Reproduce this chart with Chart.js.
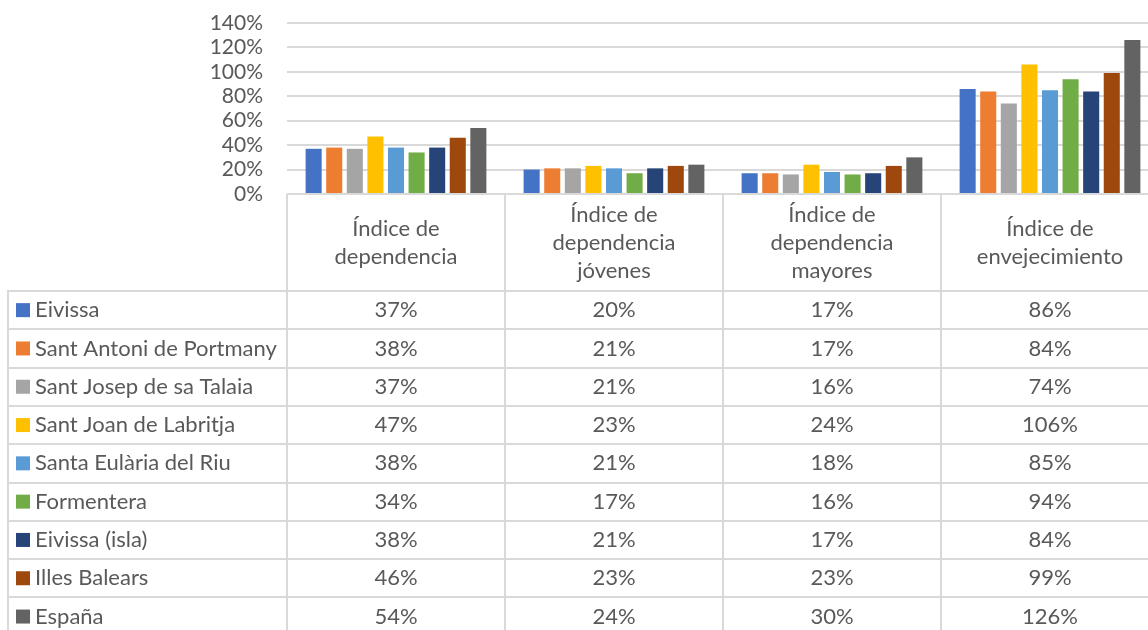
<!DOCTYPE html>
<html>
<head>
<meta charset="utf-8">
<script src="https://cdn.jsdelivr.net/npm/chart.js@4.4.1/dist/chart.umd.min.js"></script>
<style>
  html, body { margin: 0; padding: 0; background: #fff; overflow: hidden; width: 1148px; height: 630px; }
  #wrap { width: 1159px; height: 630px; position: relative; }
</style>
</head>
<body>
<div id="wrap"><canvas id="chart"></canvas></div>
<script>
// categories (wrapped header text)
const categories = [
  ['Índice de', 'dependencia'],
  ['Índice de', 'dependencia', 'jóvenes'],
  ['Índice de', 'dependencia', 'mayores'],
  ['Índice de', 'envejecimiento']
];

// series values in %
const eivissa      = [37, 20, 17, 86];
const santAntoni   = [38, 21, 17, 84];
const santJosep    = [37, 21, 16, 74];
const santJoan     = [47, 23, 24, 106];
const santaEularia = [38, 21, 18, 85];
const formentera   = [34, 17, 16, 94];
const eivissaIsla  = [38, 21, 17, 84];
const illesBalears = [46, 23, 23, 99];
const espana       = [54, 24, 30, 126];

const seriesNames = ['Eivissa', 'Sant Antoni de Portmany', 'Sant Josep de sa Talaia',
  'Sant Joan de Labritja', 'Santa Eulària del Riu', 'Formentera', 'Eivissa (isla)',
  'Illes Balears', 'España'];
const seriesValues = [eivissa, santAntoni, santJosep, santJoan, santaEularia,
  formentera, eivissaIsla, illesBalears, espana];
const colors = ['#4472C4', '#ED7D31', '#A5A5A5', '#FFC000', '#5B9BD5',
  '#70AD47', '#264478', '#9E480E', '#636363'];

const yTicks = [0, 20, 40, 60, 80, 100, 120, 140];

const FONT = 'Lato, Carlito, Calibri, sans-serif';
const TEXT = '#595959';
const LINE = '#d9d9d9';

// draws the data table under the plot, aligned with the x scale
const dataTable = {
  id: 'dataTable',
  afterDraw(chart) {
    const ctx = chart.ctx;
    const area = chart.chartArea;
    const x = chart.scales.x;
    const colW = (area.right - area.left) / categories.length;
    const tableTop = 291;
    const rowH = 38.3;
    const leftEdge = 8;

    ctx.save();
    ctx.strokeStyle = LINE;
    ctx.lineWidth = 2;

    // baseline
    ctx.beginPath();
    ctx.moveTo(area.left, area.bottom);
    ctx.lineTo(area.right, area.bottom);
    ctx.stroke();

    // column separators
    for (let i = 0; i <= categories.length; i++) {
      const cx = Math.round(area.left + i * colW);
      ctx.beginPath();
      ctx.moveTo(cx, area.bottom);
      ctx.lineTo(cx, chart.height);
      ctx.stroke();
    }
    ctx.beginPath();
    ctx.moveTo(leftEdge, tableTop);
    ctx.lineTo(leftEdge, chart.height);
    ctx.stroke();

    // row lines
    for (let r = 0; r <= seriesNames.length; r++) {
      const y = Math.round(tableTop + r * rowH);
      ctx.beginPath();
      ctx.moveTo(leftEdge - 1, y);
      ctx.lineTo(area.right, y);
      ctx.stroke();
    }

    ctx.fillStyle = TEXT;
    ctx.textBaseline = 'middle';
    ctx.textAlign = 'center';
    ctx.font = '22px ' + FONT;

    // header labels
    const headMid = (area.bottom + tableTop) / 2;
    const lh = 28;
    categories.forEach((lines, i) => {
      const cx = x.getPixelForValue(i);
      const y0 = headMid - (lines.length - 1) * lh / 2;
      lines.forEach((t, k) => ctx.fillText(t, cx, y0 + k * lh));
    });

    // rows
    seriesNames.forEach((name, r) => {
      const cy = tableTop + r * rowH + rowH / 2;
      ctx.fillStyle = colors[r];
      ctx.fillRect(16, cy - 7, 14, 14);
      ctx.fillStyle = TEXT;
      ctx.textAlign = 'left';
      ctx.fillText(name, 35, cy);
      ctx.textAlign = 'center';
      seriesValues[r].forEach((v, i) => {
        ctx.fillText(v + '%', x.getPixelForValue(i), cy);
      });
    });
    ctx.restore();
  }
};

new Chart(document.getElementById('chart'), {
  type: 'bar',
  data: {
    labels: categories.map(c => c.join(' ')),
    datasets: seriesNames.map((name, i) => ({
      label: name,
      data: seriesValues[i],
      backgroundColor: colors[i],
      categoryPercentage: 0.85,
      barPercentage: 0.78
    }))
  },
  options: {
    responsive: true,
    maintainAspectRatio: false,
    animation: false,
    layout: { padding: { top: 23, bottom: 436, left: 0, right: 0 } },
    plugins: { legend: { display: false }, tooltip: { enabled: false } },
    scales: {
      x: { display: false },
      y: {
        min: 0,
        max: 140,
        afterFit(scale) {
          scale.width = 287;
          scale.paddingTop = 0;
          scale.paddingBottom = 0;
        },
        afterBuildTicks(scale) { scale.ticks = yTicks.map(v => ({ value: v })); },
        border: { display: false },
        grid: { color: LINE, lineWidth: 2, drawTicks: false },
        ticks: {
          color: TEXT,
          padding: 24,
          autoSkip: false,
          font: { family: FONT, size: 21 },
          callback: v => v + '%'
        }
      }
    }
  },
  plugins: [dataTable]
});
</script>
</body>
</html>
